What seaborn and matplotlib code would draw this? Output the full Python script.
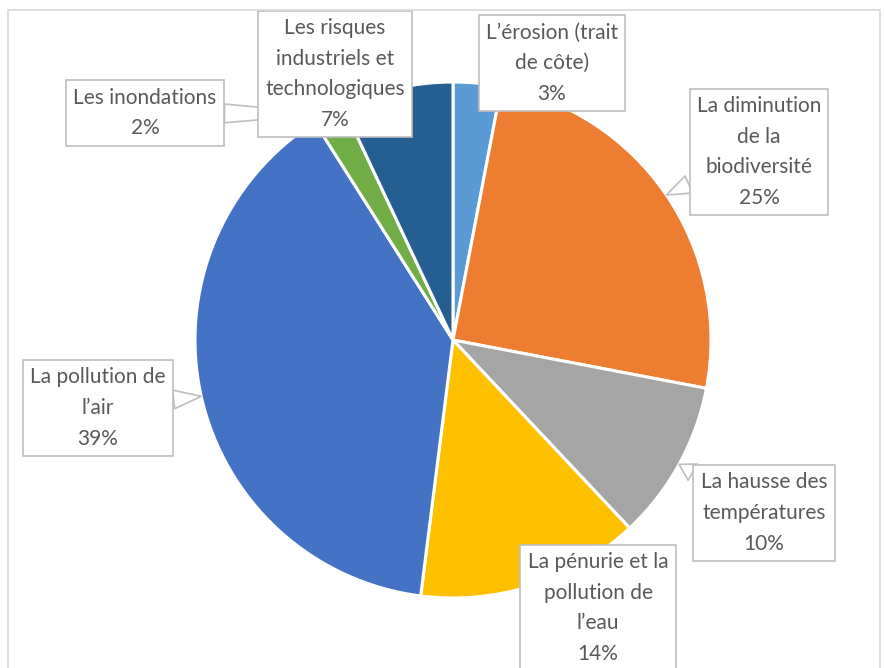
import numpy as np
import matplotlib.pyplot as plt
import seaborn as sns
from matplotlib.patches import Rectangle

# Données du graphique (sens horaire depuis midi)
categories = ["L\u2019érosion (trait\nde côte)",
              "La diminution\nde la\nbiodiversité",
              "La hausse des\ntempératures",
              "La pénurie et la\npollution de\nl\u2019eau",
              "La pollution de\nl\u2019air",
              "Les inondations",
              "Les risques\nindustriels et\ntechnologiques"]
valeurs = [3, 25, 10, 14, 39, 2, 7]
couleurs = ["#5B9BD5", "#ED7D31", "#A5A5A5", "#FFC000", "#4472C4", "#70AD47", "#255E91"]

# position des étiquettes (pixels figure, origine en haut à gauche) et présence d'une flèche
pos_etiquettes = [(552, 63), (759, 152), (764, 513), (598, 608), (98, 408), (145, 113), (335, 74)]
avec_fleche = [False, True, True, False, True, True, False]

sns.set_theme(style="white")
plt.rcParams['font.family'] = ['Lato', 'DejaVu Sans']

W, H = 884, 668
fig = plt.figure(figsize=(W / 100, H / 100), dpi=100)
fig.patches.append(Rectangle((8 / W, -0.01), (W - 12) / W, (H - 10) / H + 0.01,
                             transform=fig.transFigure, fill=False,
                             edgecolor="#D9D9D9", linewidth=1.2, zorder=0))

cx, cy, r = 453, 340, 258
ax = fig.add_axes([(cx - r) / W, (H - cy - r) / H, 2 * r / W, 2 * r / H])
wedges, _ = ax.pie(valeurs, colors=couleurs, startangle=90, counterclock=False,
                   wedgeprops=dict(edgecolor="white", linewidth=2.2))
ax.set_xlim(-1, 1)
ax.set_ylim(-1, 1)
ax.axis("off")

total = sum(valeurs)
cumul = 0
for lab, v, (px, py), fl in zip(categories, valeurs, pos_etiquettes, avec_fleche):
    mid = np.deg2rad(90 - (cumul + v / 2) / total * 360)
    cumul += v
    texte = f"{lab}\n{v}%"
    kw = dict(arrowprops=dict(arrowstyle="wedge,tail_width=0.9,shrink_factor=0.5",
                              fc="white", ec="#BFBFBF", lw=1.2,
                              shrinkA=0, shrinkB=0)) if fl else {}
    ax.annotate(texte, xy=(np.cos(mid), np.sin(mid)), xycoords="data",
                xytext=(px, H - py), textcoords="figure pixels",
                ha="center", va="center", multialignment="center",
                fontsize=15, color="#595959", linespacing=1.66,
                bbox=dict(boxstyle="square,pad=0.35", fc="white", ec="#BFBFBF", lw=1.2),
                annotation_clip=False, zorder=5, **kw)

plt.savefig("out.png", dpi=100)
